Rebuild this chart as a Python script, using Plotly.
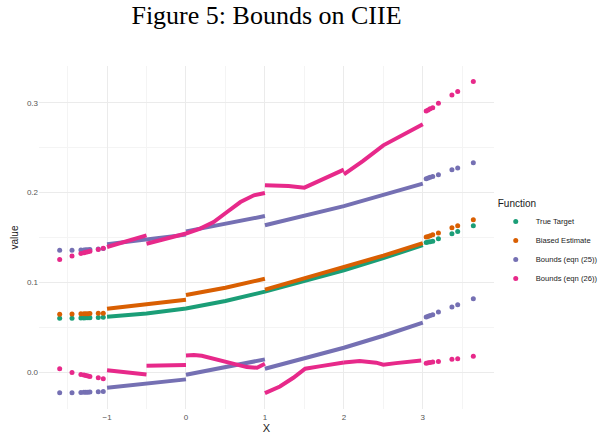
import plotly.graph_objects as go

# ---------------- data ----------------
series_names = ["True Target", "Biased Estimate", "Bounds (eqn (25))", "Bounds (eqn (26))"]
series_colors = ["#1B9E77", "#D95F02", "#7570B3", "#E7298A"]

# sparse tail observations (x)
tail_left_x = [-1.60, -1.444, -1.331, -1.293, -1.268, -1.242, -1.217, -1.111, -1.048]
tail_right_x = [3.043, 3.068, 3.093, 3.126, 3.198, 3.369, 3.442, 3.640]

# True Target
target_left = [0.0599, 0.0601, 0.0603, 0.0604, 0.0605, 0.0605, 0.0606, 0.0609, 0.0611]
target_right = [0.1443, 0.1449, 0.1453, 0.1457, 0.1487, 0.1543, 0.1568, 0.1632]
target_seg_x = [[-1, -0.5, 0, 0.5, 1, 1.5, 2, 2.5, 3]]
target_seg_y = [[0.0617, 0.0652, 0.0710, 0.0793, 0.0897, 0.1012, 0.1135, 0.1270, 0.1415]]

# Biased Estimate
biased_left = [0.0645, 0.0647, 0.0649, 0.0650, 0.0650, 0.0651, 0.0652, 0.0655, 0.0657]
biased_right = [0.1505, 0.1512, 0.1520, 0.1532, 0.1550, 0.1610, 0.1632, 0.1699]
biased_seg_x = [[-1, -0.5, 0], [0, 0.5, 1], [1, 1.5, 2, 2.5, 3]]
biased_seg_y = [[0.0707, 0.0752, 0.0807], [0.0860, 0.0940, 0.1040],
                [0.0920, 0.1043, 0.1165, 0.1298, 0.1438]]

# Bounds (eqn (25)) upper / lower
b25_up_left = [0.1357, 0.1359, 0.1361, 0.1362, 0.1363, 0.1364, 0.1365, 0.1372, 0.1378]
b25_up_right = [0.2156, 0.2164, 0.2172, 0.2180, 0.2200, 0.2256, 0.2274, 0.2334]
b25_up_seg_x = [[-1, 0], [0, 1], [1, 2, 3]]
b25_up_seg_y = [[0.1424, 0.1532], [0.1568, 0.1739], [0.1636, 0.1850, 0.2100]]
b25_lo_left = [-0.0230, -0.0230, -0.0227, -0.0225, -0.0224, -0.0223, -0.0222, -0.0219, -0.0215]
b25_lo_right = [0.0613, 0.0622, 0.0631, 0.0640, 0.0669, 0.0725, 0.0751, 0.0818]
b25_lo_seg_x = [[-1, 0], [0, 1], [1, 1.5, 2, 2.5, 3]]
b25_lo_seg_y = [[-0.0174, -0.0081], [-0.0030, 0.0142], [0.0038, 0.0155, 0.0272, 0.0405, 0.0551]]

# Bounds (eqn (26)) upper / lower
b26_up_left = [0.1256, 0.1293, 0.1323, 0.1330, 0.1336, 0.1342, 0.1347, 0.1365, 0.1380]
b26_up_right = [0.2910, 0.2922, 0.2935, 0.2947, 0.2995, 0.3088, 0.3126, 0.3237]
b26_up_seg_x = [[-1, -0.75, -0.5],
                [-0.5, -0.25, 0, 0.18, 0.35, 0.52, 0.69, 0.86, 1.0],
                [1, 1.15, 1.3, 1.5, 1.78, 2.0],
                [2.0, 2.24, 2.5, 3.0]]
b26_up_seg_y = [[0.1394, 0.1457, 0.1524],
                [0.1431, 0.1487, 0.1545, 0.1599, 0.1672, 0.1784, 0.1895, 0.1970, 0.1996],
                [0.2081, 0.2080, 0.2074, 0.2055, 0.2167, 0.2256],
                [0.2204, 0.2352, 0.2527, 0.2761]]
b26_lo_left = [0.0038, -0.0003, -0.0026, -0.0033, -0.0038, -0.0043, -0.0048, -0.0063, -0.0074]
b26_lo_right = [0.0100, 0.0104, 0.0108, 0.0112, 0.0119, 0.0142, 0.0149, 0.0178]
b26_lo_seg_x = [[-1, -0.75, -0.5],
                [-0.5, 0],
                [0, 0.1, 0.2, 0.35, 0.56, 0.77, 0.9, 1.0],
                [1, 1.19, 1.36, 1.51, 1.69, 1.82, 2.0],
                [2.0, 2.2, 2.41, 2.5, 2.66, 2.98]]
b26_lo_seg_y = [[0.0022, -0.0004, -0.0026],
                [0.0071, 0.0078],
                [0.0186, 0.0190, 0.0182, 0.0149, 0.0100, 0.0056, 0.0049, 0.0094],
                [-0.0234, -0.0160, -0.0063, 0.0038, 0.0064, 0.0082, 0.0108],
                [0.0108, 0.0123, 0.0105, 0.0082, 0.0100, 0.0130]]

x_ticks = [-1, 0, 1, 2, 3]
y_ticks = [0.0, 0.1, 0.2, 0.3]

# ---------------- figure ----------------
series = [
    [(target_left, target_right, target_seg_x, target_seg_y)],
    [(biased_left, biased_right, biased_seg_x, biased_seg_y)],
    [(b25_up_left, b25_up_right, b25_up_seg_x, b25_up_seg_y),
     (b25_lo_left, b25_lo_right, b25_lo_seg_x, b25_lo_seg_y)],
    [(b26_up_left, b26_up_right, b26_up_seg_x, b26_up_seg_y),
     (b26_lo_left, b26_lo_right, b26_lo_seg_x, b26_lo_seg_y)],
]

fig = go.Figure()
LW = 4.0
MS = 5
for name, color, curves in zip(series_names, series_colors, series):
    first = True
    for left, right, segx, segy in curves:
        for sx, sy in zip(segx, segy):
            fig.add_trace(go.Scatter(
                x=sx, y=sy, mode="lines", line=dict(color=color, width=LW),
                legendgroup=name, showlegend=False, hoverinfo="skip"))
        fig.add_trace(go.Scatter(
            x=tail_left_x + tail_right_x, y=left + right, mode="markers",
            marker=dict(color=color, size=MS), name=name, legendgroup=name,
            showlegend=first))
        first = False

grid_major = "#EBEBEB"
grid_minor = "#F4F4F4"
fig.update_layout(
    width=598, height=434,
    paper_bgcolor="white", plot_bgcolor="white",
    margin=dict(l=39, r=104, t=66, b=25),
    font=dict(family="Liberation Sans, Arial, sans-serif", color="#4D4D4D"),
    title=dict(text="Figure 5: Bounds on CIIE", x=0.5, xref="paper", xanchor="center",
               y=0.965, yref="container", yanchor="middle",
               font=dict(family="Liberation Serif, Times New Roman, serif", size=26, color="black")),
    legend=dict(xref="container", x=0.829, xanchor="left", y=0.627, yanchor="top",
                title=dict(text="Function", font=dict(size=10, color="#1A1A1A")),
                font=dict(size=7.6, color="#1A1A1A"), itemwidth=30, tracegroupgap=0,
                borderwidth=0, bgcolor="rgba(0,0,0,0)"),
    showlegend=True,
)
fig.update_xaxes(
    range=[-1.862, 3.902], tickvals=x_ticks, automargin=False,
    showgrid=True, gridcolor=grid_major, gridwidth=1, zeroline=False, showline=False,
    ticks="", tickfont=dict(size=8, color="#555555"), ticklabelstandoff=2,
    minor=dict(dtick=0.5, tick0=-1.5, showgrid=True, gridcolor=grid_minor, gridwidth=0.6),
    title=dict(text="X", font=dict(size=11, color="#1A1A1A"), standoff=4),
)
fig.update_yaxes(
    range=[-0.0411, 0.3411], tickvals=y_ticks, tickformat=".1f", automargin=False,
    showgrid=True, gridcolor=grid_major, gridwidth=1, zeroline=False, showline=False,
    ticks="", tickfont=dict(size=8, color="#555555"),
    minor=dict(dtick=0.05, tick0=-0.05, showgrid=True, gridcolor=grid_minor, gridwidth=0.6),
    title=dict(text="value", font=dict(size=10, color="#1A1A1A"), standoff=6),
)

fig.write_html("out.html", config={"displayModeBar": False},
               post_script="document.body.style.margin='0px';")
